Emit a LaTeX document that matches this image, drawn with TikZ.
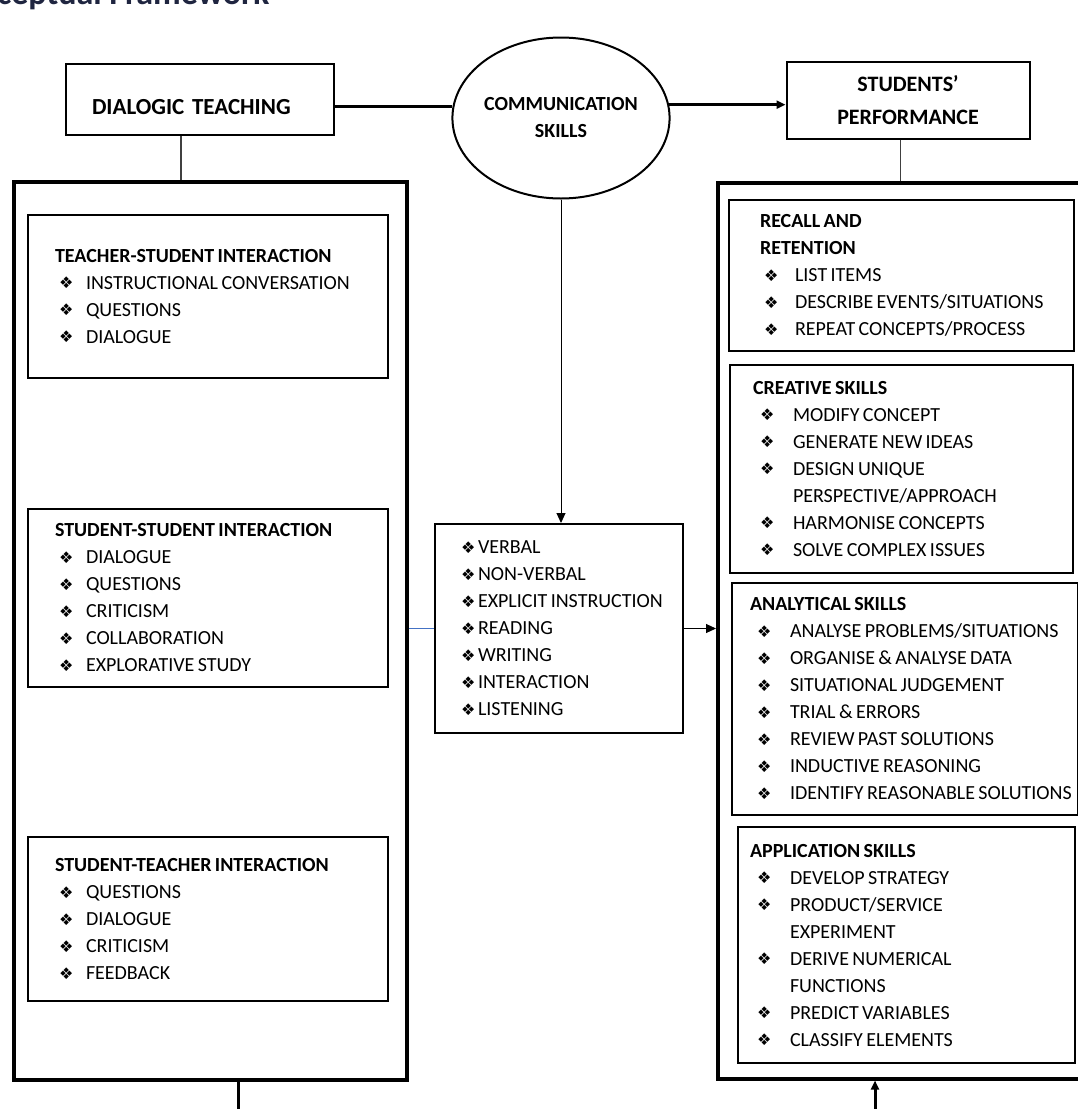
\documentclass[tikz,border=0pt]{standalone}
\usepackage{fontspec}
\setmainfont{Carlito}
\newfontfamily\bulfont{DejaVu Sans}
\usetikzlibrary{shapes.geometric,arrows.meta,calc}

\definecolor{titlenavy}{HTML}{1F2540}
\definecolor{linkblue}{HTML}{4472C4}

\newlength{\bind}
\newlength{\tind}
\newcommand{\bul}{\raisebox{0.5pt}{\bulfont\fontsize{16}{16}\selectfont\char"2756}}
\newcommand{\bitem}[1]{\\\hspace*{\bind}\makebox[\tind][l]{\bul}\mbox{#1}}
\newcommand{\bmore}[1]{\\\hspace*{\bind}\hspace*{\tind}\mbox{#1}}
\newcommand{\tightsp}{\spaceskip=3.4pt plus 2pt\relax}

\tikzset{
  bigbox/.style={draw, line width=3.5pt, anchor=north west, inner sep=0pt},
  inbox/.style={draw, line width=2pt, anchor=north west, inner sep=0pt, align=left,
    font=\fontsize{20}{27}\selectfont, execute at begin node=\tightsp},
  headbox/.style={draw, line width=2pt, inner sep=0pt, font=\bfseries\fontsize{22}{33}\selectfont},
  thickline/.style={line width=3pt},
  thinarrow/.style={line width=1pt, -{Triangle[length=10pt,width=9pt]}},
  thickarrow/.style={line width=3pt, -{Triangle[length=9pt,width=8pt]}},
}

\begin{document}
\begin{tikzpicture}[x=1pt,y=-1pt]
\clip (0,0) rectangle (1078,1109);

% title, cut at the top
\node[anchor=base east, text=titlenavy, font=\bfseries\fontsize{34}{34}\selectfont] (ttl) at (273,4) {Conceptual Framework};

% heads
\node[headbox, anchor=north west, text width=268pt, text height=50pt, text depth=21pt, align=left,
  font=\bfseries\fontsize{23}{23}\selectfont] (dt) at (65,63) {\hspace*{26pt}DIALOGIC TEACHING};
\node[draw, ellipse, line width=2pt, minimum width=214pt, minimum height=161pt, inner sep=0pt,
  align=center, font=\bfseries\fontsize{20}{27}\selectfont] (comm) at (561,118) {COMMUNICATION\\SKILLS};
\node[headbox, minimum width=243pt, minimum height=77pt, align=center] (sp) at (908,100) {STUDENTS’\\PERFORMANCE};

% outer frames
\node[bigbox, minimum width=393pt, minimum height=898pt] (lbox) at (12,180) {};
\node[bigbox, minimum width=380pt, minimum height=896pt] (rbox) at (716,181) {};

% dialogic teaching side
\setlength{\bind}{31pt}\setlength{\tind}{27pt}
\node[inbox, text width=360pt, minimum height=163pt] (tsi) at (27,214)
  {\hspace*{27pt}\textbf{TEACHER-STUDENT INTERACTION}
   \bitem{INSTRUCTIONAL CONVERSATION}
   \bitem{QUESTIONS}
   \bitem{DIALOGUE}};
\node[inbox, text width=360pt, minimum height=178pt] (ssi) at (27,508)
  {\hspace*{27pt}\textbf{STUDENT-STUDENT INTERACTION}
   \bitem{DIALOGUE}
   \bitem{QUESTIONS}
   \bitem{CRITICISM}
   \bitem{COLLABORATION}
   \bitem{EXPLORATIVE STUDY}};
\node[inbox, text width=360pt, minimum height=164pt] (sti) at (27,836)
  {\hspace*{27pt}\textbf{STUDENT-TEACHER INTERACTION}
   \bitem{QUESTIONS}
   \bitem{DIALOGUE}
   \bitem{CRITICISM}
   \bitem{FEEDBACK}};

% communication skills
\setlength{\bind}{26pt}\setlength{\tind}{17pt}
\node[inbox, text width=248pt, minimum height=209pt] (mid) at (434,523)
  {\hspace*{\bind}\makebox[\tind][l]{\bul}VERBAL
   \bitem{NON-VERBAL}
   \bitem{EXPLICIT INSTRUCTION}
   \bitem{READING}
   \bitem{WRITING}
   \bitem{INTERACTION}
   \bitem{LISTENING}};

% students' performance side
\setlength{\bind}{35pt}\setlength{\tind}{31pt}
\node[inbox, text width=345pt, minimum height=151pt] (rec) at (728,199)
  {\hspace*{31pt}\textbf{RECALL AND}\\\hspace*{31pt}\textbf{RETENTION}
   \bitem{LIST ITEMS}
   \bitem{DESCRIBE EVENTS/SITUATIONS}
   \bitem{REPEAT CONCEPTS/PROCESS}};
\setlength{\bind}{30pt}\setlength{\tind}{33pt}
\node[inbox, text width=343pt, minimum height=208pt] (cre) at (729,364)
  {\hspace*{23pt}\textbf{CREATIVE SKILLS}
   \bitem{MODIFY CONCEPT}
   \bitem{GENERATE NEW IDEAS}
   \bitem{DESIGN UNIQUE}
   \bmore{PERSPECTIVE/APPROACH}
   \bitem{HARMONISE CONCEPTS}
   \bitem{SOLVE COMPLEX ISSUES}};
\setlength{\bind}{25pt}\setlength{\tind}{33pt}
\node[inbox, text width=346pt, minimum height=232pt] (ana) at (731,582)
  {\hspace*{18pt}\textbf{ANALYTICAL SKILLS}
   \bitem{ANALYSE PROBLEMS/SITUATIONS}
   \bitem{ORGANISE \& ANALYSE DATA}
   \bitem{SITUATIONAL JUDGEMENT}
   \bitem{TRIAL \& ERRORS}
   \bitem{REVIEW PAST SOLUTIONS}
   \bitem{INDUCTIVE REASONING}
   \bitem{IDENTIFY REASONABLE SOLUTIONS}};
\setlength{\bind}{19pt}\setlength{\tind}{33pt}
\node[inbox, text width=337pt, minimum height=236pt] (app) at (737,826)
  {\hspace*{12pt}\textbf{APPLICATION SKILLS}
   \bitem{DEVELOP STRATEGY}
   \bitem{PRODUCT/SERVICE}
   \bmore{EXPERIMENT}
   \bitem{DERIVE NUMERICAL}
   \bmore{FUNCTIONS}
   \bitem{PREDICT VARIABLES}
   \bitem{CLASSIFY ELEMENTS}};

% links
\draw[thickline] (dt.east |- comm.174) -- (comm.174);
\draw[thickarrow] (comm.7) -- (comm.7 -| sp.west);
\coordinate (dtfoot) at ($(dt.south west)!0.43!(dt.south east)$);
\draw[line width=1.5pt, darkgray] (dtfoot) -- (dtfoot |- lbox.north);
\coordinate (spfoot) at ($(sp.south west)!0.47!(sp.south east)$);
\draw[line width=1.5pt, darkgray] (spfoot) -- (spfoot |- rbox.north);
\draw[thinarrow] (comm.south) -- (comm.south |- mid.north);
\draw[linkblue, line width=1pt] (mid.west -| lbox.east) -- (mid.west);
\draw[thinarrow] (mid.east) -- (mid.east -| rbox.west);
\coordinate (lfoot) at (238,1109);
\draw[thickline] (lfoot |- lbox.south) -- (lfoot);
\coordinate (rfoot) at (875,1109);
\draw[thickarrow] (rfoot) -- (rfoot |- rbox.south);
\end{tikzpicture}
\end{document}
